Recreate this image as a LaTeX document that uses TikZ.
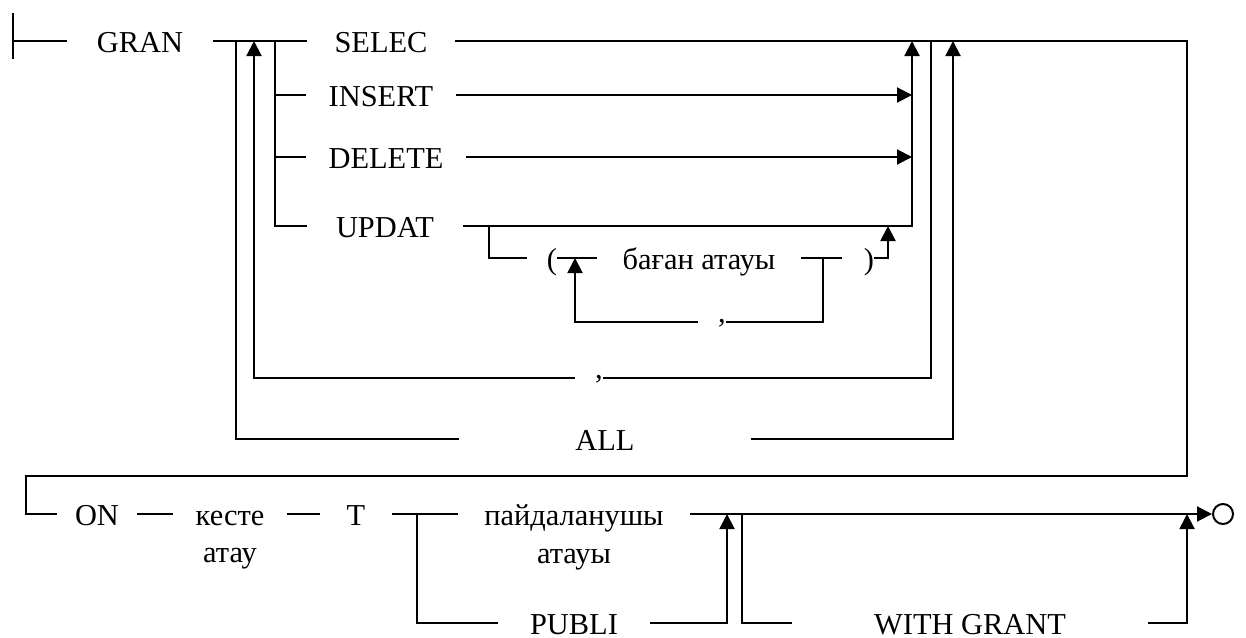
\documentclass[tikz,border=0pt]{standalone}
\usepackage{fontspec}
\setmainfont{Liberation Serif}
\usetikzlibrary{arrows.meta}

\begin{document}
\begin{tikzpicture}[
    x=0.5pt, y=-0.5pt,
    term/.style={font=\fontsize{15.2}{18}\selectfont, inner xsep=13pt, inner ysep=0pt, text height=11.4pt, text depth=0pt},
    paren/.style={term, inner xsep=0pt},
    comma/.style={term, inner xsep=0pt, text height=0pt},
    line/.style={line width=1pt},
    edge/.style={line, -{Triangle[length=7.5pt,width=7.5pt]}},
    stop/.style={draw, circle, line width=1pt, minimum size=10pt, inner sep=0pt},
]
\useasboundingbox (0,0) rectangle (1246,637);

% Start
\coordinate (st) at (13,41);
\draw[line] (13,13) -- (13,59);
\node[term, inner xsep=15pt] (gran) at (140,41) {GRAN};

% Privileges
\node[term, inner xsep=13.5pt] (selec) at (381,41) {SELEC};
\node[term, inner xsep=11pt] (insert) at (381,95) {INSERT};
\node[term, inner xsep=11pt] (delete) at (386,157) {DELETE};
\node[term, inner xsep=14.5pt] (updat) at (385,226) {UPDAT};

\coordinate (j1) at (236,41);
\coordinate (j2) at (254,41);
\coordinate (j3) at (275,41);
\coordinate (k1) at (912,41);
\coordinate (k3) at (931,41);
\coordinate (k4) at (953,41);
\coordinate (rt) at (1187,41);

\draw[line] (st) -- (gran.west);
\draw[line] (gran.east) -- (selec.west);
\draw[line] (j3) |- (updat.west);
\draw[line] (j3 |- insert.west) -- (insert.west);
\draw[line] (j3 |- delete.west) -- (delete.west);
\draw[edge] (insert.east) -- (k1 |- insert.east);
\draw[edge] (delete.east) -- (k1 |- delete.east);
\draw[edge] (updat.east) -| (k1);

% Column list
\coordinate (u1) at (489,226);
\coordinate (p1) at (527,258);
\coordinate (p2) at (842,258);
\coordinate (c1) at (575,258);
\coordinate (c2) at (823,258);
\coordinate (k2) at (888,226);
\node[paren] (lpar) at (552,258) {(};
\node[term, inner xsep=12.5pt] (col) at (699,258) {баған атауы};
\node[paren] (rpar) at (869,258) {)};
\node[comma] (cm1) at (712,322) {\hspace{10pt},};

\draw[line] (u1) |- (p1);
\draw[line] (lpar.east) -- (col.west);
\draw[line] (col.east) -- (p2);
\draw[edge] (rpar.east) -| (k2);
\draw[line] (c2) |- (cm1.east);
\draw[edge] (cm1.west) -| (c1);

% Repeat and ALL
\node[comma] (cm2) at (589,378) {\hspace{10pt},};
\node[term, inner xsep=58pt] (all) at (605,439) {ALL};
\draw[line] (k3) |- (cm2.east);
\draw[edge] (cm2.west) -| (j2);
\draw[line] (j1) |- (all.west);
\draw[edge] (all.east) -| (k4);

% Second line
\coordinate (r1) at (1187,476);
\coordinate (r2) at (26,476);
\node[term, inner xsep=9pt] (on) at (97,514) {ON};
\node[term, inner xsep=11pt] (kes) at (230,514) {кесте};
\node[term] (kesb) at (230,551) {атау};
\node[term] (t) at (356,514) {T};
\draw[line] (selec.east) -- (rt) -- (r1) -- (r2) |- (on.west);
\draw[line] (on.east) -- (kes.west);
\draw[line] (kes.east) -- (t.west);

% Grantee
\coordinate (tj) at (417,514);
\coordinate (a1) at (727,514);
\coordinate (a2) at (742,514);
\coordinate (a3) at (1187,514);
\node[term] (usr) at (574,514) {пайдаланушы};
\node[term] (usrb) at (574,552) {атауы};
\node[term, inner xsep=16pt] (pub) at (574,623) {PUBLI};
\node[term, inner xsep=41pt] (wg) at (970,623) {WITH GRANT};
\node[stop] (fin) at (1223,514) {};

\draw[line] (t.east) -- (usr.west);
\draw[line] (tj) |- (pub.west);
\draw[edge] (usr.east) -- (fin.west);
\draw[edge] (pub.east) -| (a1);
\draw[line] (a2) |- (wg.west);
\draw[edge] (wg.east) -| (a3);

\end{tikzpicture}
\end{document}
